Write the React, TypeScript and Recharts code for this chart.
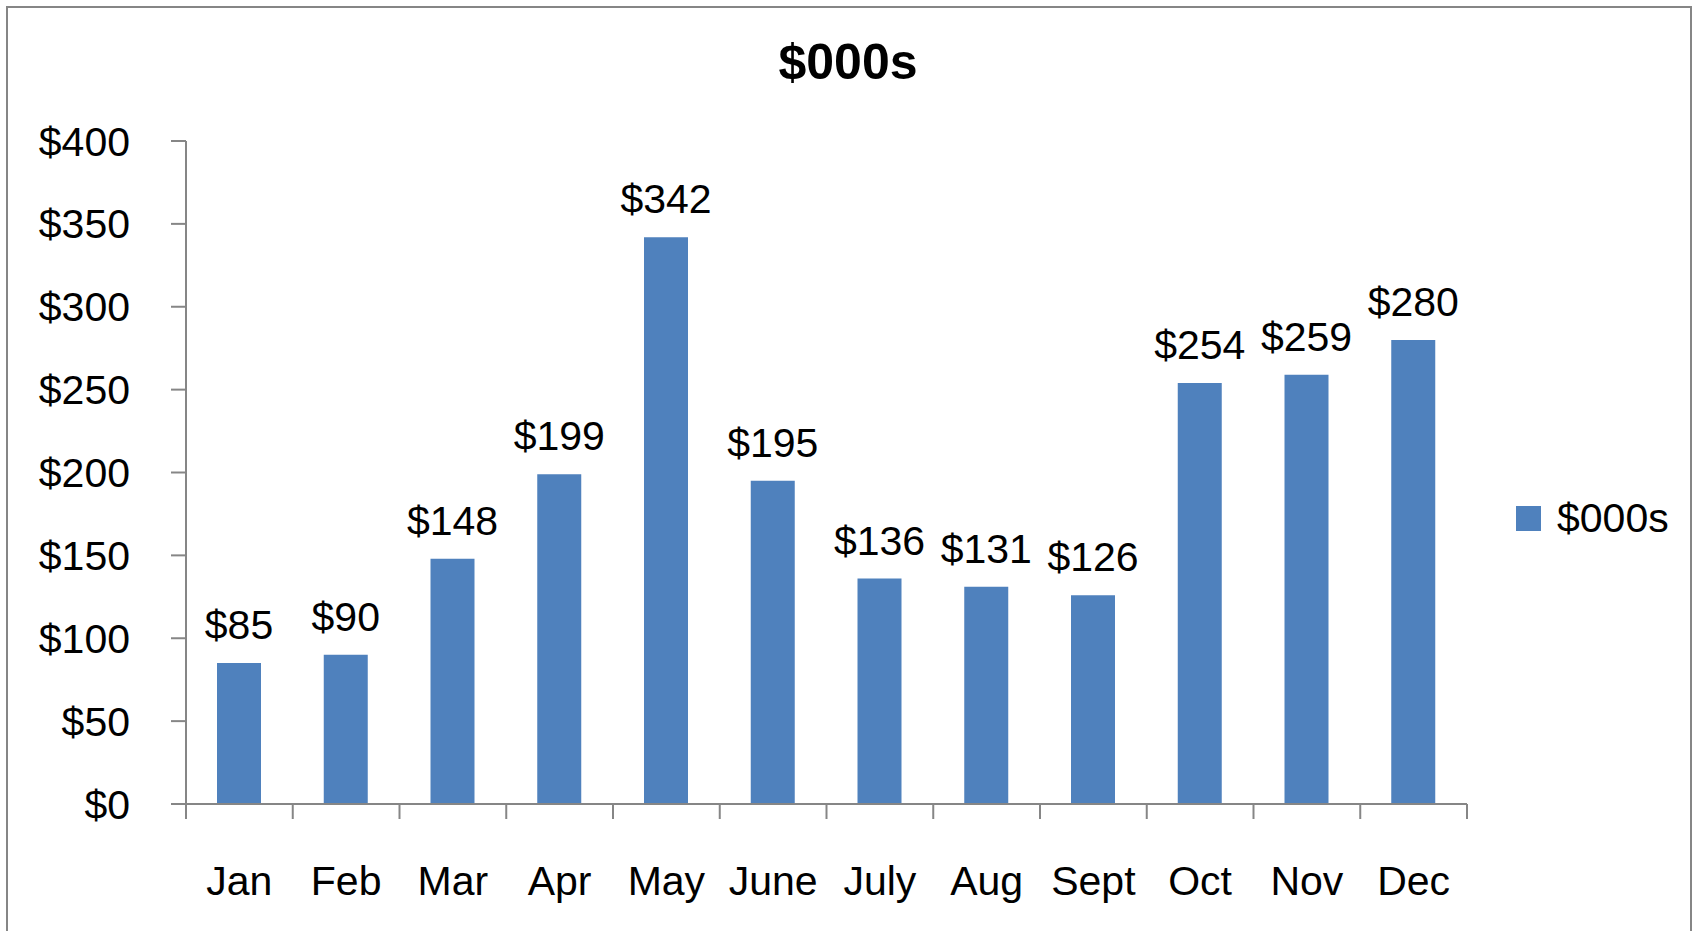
import React from 'react';
import { BarChart, Bar, XAxis, YAxis, LabelList, Legend } from 'recharts';

const months = ['Jan', 'Feb', 'Mar', 'Apr', 'May', 'June', 'July', 'Aug', 'Sept', 'Oct', 'Nov', 'Dec'];
const revenue = [85, 90, 148, 199, 342, 195, 136, 131, 126, 254, 259, 280];
const yTicks = [0, 50, 100, 150, 200, 250, 300, 350, 400];
const seriesName = '$000s';

const data = months.map((m, i) => ({ month: m, value: revenue[i] }));

const W = 1696;
const H = 931;
const PLOT_LEFT = 186;
const PLOT_RIGHT = 1467;
const PLOT_TOP = 141;
const PLOT_BOTTOM = 804;
const BAND = (PLOT_RIGHT - PLOT_LEFT) / months.length;
const FONT = '"Liberation Sans", Arial, sans-serif';
const AXIS = '#868686';
const BLUE = '#4F81BD';

const TICK_SIZE = 15;
const X_TICK_MARGIN = 47;

// Excel-style category ticks: marks sit on the band boundaries, not the centers
const CategoryTick = (props: any) => {
  const { x, y, payload, index } = props;
  const axisY = y - TICK_SIZE - X_TICK_MARGIN;
  const left = x - BAND / 2;
  return (
    <g>
      <line x1={left} y1={axisY} x2={left} y2={axisY + TICK_SIZE} stroke={AXIS} strokeWidth={2} />
      {index === months.length - 1 && (
        <line x1={x + BAND / 2} y1={axisY} x2={x + BAND / 2} y2={axisY + TICK_SIZE} stroke={AXIS} strokeWidth={2} />
      )}
      <text x={x} y={y} dy="0.71em" textAnchor="middle" fontSize={41} fontFamily={FONT} fill="#000">
        {payload.value}
      </text>
    </g>
  );
};

const LegendBox = () => (
  <div style={{ display: 'flex', alignItems: 'center', fontFamily: FONT, fontSize: 41, color: '#000' }}>
    <span style={{ display: 'inline-block', width: 25, height: 25, background: BLUE, marginRight: 16 }} />
    <span>{seriesName}</span>
  </div>
);

export default function App() {
  return (
    <div style={{ position: 'absolute', left: 0, top: 0, width: W, height: H, overflow: 'hidden', background: '#fff' }}>
      <div
        style={{
          position: 'absolute', left: 6, top: 6, width: 1686, height: 1000,
          border: `2px solid ${AXIS}`, boxSizing: 'border-box',
        }}
      />
      <div
        style={{
          position: 'absolute', left: 0, top: 34, width: W, textAlign: 'center',
          fontFamily: FONT, fontWeight: 'bold', fontSize: 50, lineHeight: '56px', color: '#000',
        }}
      >
        {seriesName}
      </div>
      <BarChart
        width={W}
        height={H}
        data={data}
        margin={{ top: PLOT_TOP, right: W - PLOT_RIGHT, bottom: 0, left: 0 }}
        style={{ position: 'absolute', left: 0, top: 0 }}
      >
        <XAxis
          dataKey="month"
          height={H - PLOT_BOTTOM}
          axisLine={{ stroke: AXIS, strokeWidth: 2 }}
          tickLine={false}
          tickSize={TICK_SIZE}
          tickMargin={X_TICK_MARGIN}
          interval={0}
          tick={<CategoryTick />}
        />
        <YAxis
          width={PLOT_LEFT}
          domain={[0, 400]}
          ticks={yTicks}
          interval={0}
          axisLine={{ stroke: AXIS, strokeWidth: 2 }}
          tickLine={{ stroke: AXIS, strokeWidth: 2 }}
          tickSize={TICK_SIZE}
          tickMargin={41}
          tickFormatter={(v: number) => `$${v}`}
          tick={{ fontSize: 41, fontFamily: FONT, fill: '#000' }}
        />
        <Legend
          layout="vertical"
          align="center"
          verticalAlign="middle"
          content={<LegendBox />}
          wrapperStyle={{ left: 1516, top: 495, width: 170, height: 50 }}
        />
        <Bar dataKey="value" name={seriesName} fill={BLUE} barSize={44} isAnimationActive={false}>
          <LabelList
            dataKey="value"
            position="top"
            offset={24}
            formatter={(v: any) => `$${v}`}
            style={{ fontSize: 41, fontFamily: FONT, fill: '#000' }}
          />
        </Bar>
      </BarChart>
    </div>
  );
}
